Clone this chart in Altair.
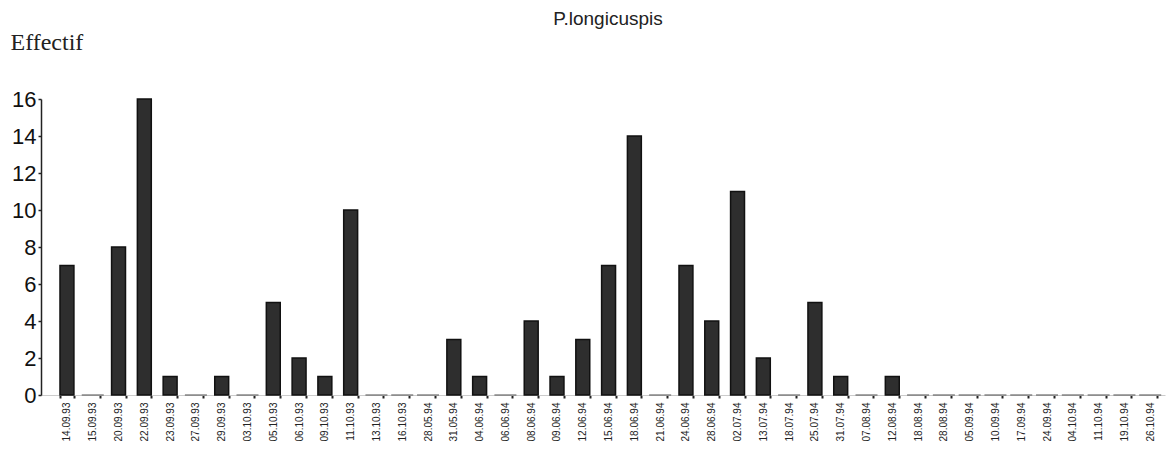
import altair as alt
import pandas as pd

dates = [
    "14.09.93", "15.09.93", "20.09.93", "22.09.93", "23.09.93", "27.09.93",
    "29.09.93", "03.10.93", "05.10.93", "06.10.93", "09.10.93", "11.10.93",
    "13.10.93", "16.10.93", "28.05.94", "31.05.94", "04.06.94", "06.06.94",
    "08.06.94", "09.06.94", "12.06.94", "15.06.94", "18.06.94", "21.06.94",
    "24.06.94", "28.06.94", "02.07.94", "13.07.94", "18.07.94", "25.07.94",
    "31.07.94", "07.08.94", "12.08.94", "18.08.94", "28.08.94", "05.09.94",
    "10.09.94", "17.09.94", "24.09.94", "04.10.94", "11.10.94", "19.10.94",
    "26.10.94",
]
effectif = [
    7, 0, 8, 16, 1, 0, 1, 0, 5, 2, 1, 10, 0, 0, 0, 3, 1, 0, 4, 1, 3, 7,
    14, 0, 7, 4, 11, 2, 0, 5, 1, 0, 1, 0, 0, 0, 0, 0, 0, 0, 0, 0, 0,
]

df = pd.DataFrame({"date": dates, "n": effectif})

xscale = alt.Scale(paddingInner=0.46, paddingOuter=0.52, align=0.708, round=False)
x = alt.X(
    "date:N", sort=dates, scale=xscale,
    axis=alt.Axis(
        title=None, labelAngle=270, labelFontSize=10, labelColor="#222",
        labelFont="Liberation Sans", labelPadding=4,
        domainColor="#cccccc", domainWidth=1,
        tickBand="extent", tickSize=3, tickWidth=2, tickColor="#222",
        labelOverlap=False,
    ),
)
y = alt.Y(
    "n:Q", scale=alt.Scale(domain=[0, 16], nice=False),
    axis=alt.Axis(
        values=list(range(0, 17, 2)), grid=False,
        title="Effectif", titleAngle=0, titleAlign="left",
        titleBaseline="alphabetic", titleX=-31, titleY=-50,
        titleFont="Liberation Serif", titleFontSize=24, titleFontWeight="normal",
        titleColor="#222",
        labelFont="Liberation Sans", labelFontSize=22, labelColor="#111",
        labelPadding=2, tickSize=3, tickWidth=1.5, tickColor="#222",
        domainColor="#222", domainWidth=1.5,
    ),
)

bars = alt.Chart(df).transform_filter("datum.n > 0").mark_bar(
    color="#2e2e2e", stroke="#111", strokeWidth=1.5
).encode(x=x, y=y)

zeros = alt.Chart(df).transform_filter("datum.n == 0").mark_tick(
    orient="horizontal", color="#555", thickness=1.5, size=22
).encode(x=x, y=y)

chart = alt.layer(bars, zeros).properties(
    width=1124, height=296,
    background="white",
    title=alt.TitleParams(
        "P.longicuspis", anchor="middle", offset=1, dx=5, fontSize=19,
        font="Liberation Sans", fontWeight="normal", color="#222",
    ),
    autosize=alt.AutoSizeParams(type="none"),
    padding={"left": 41, "top": 99, "right": 4, "bottom": 77},
).configure_view(stroke=None)

chart.save("out.html", embed_options={"renderer": "svg", "actions": False})
